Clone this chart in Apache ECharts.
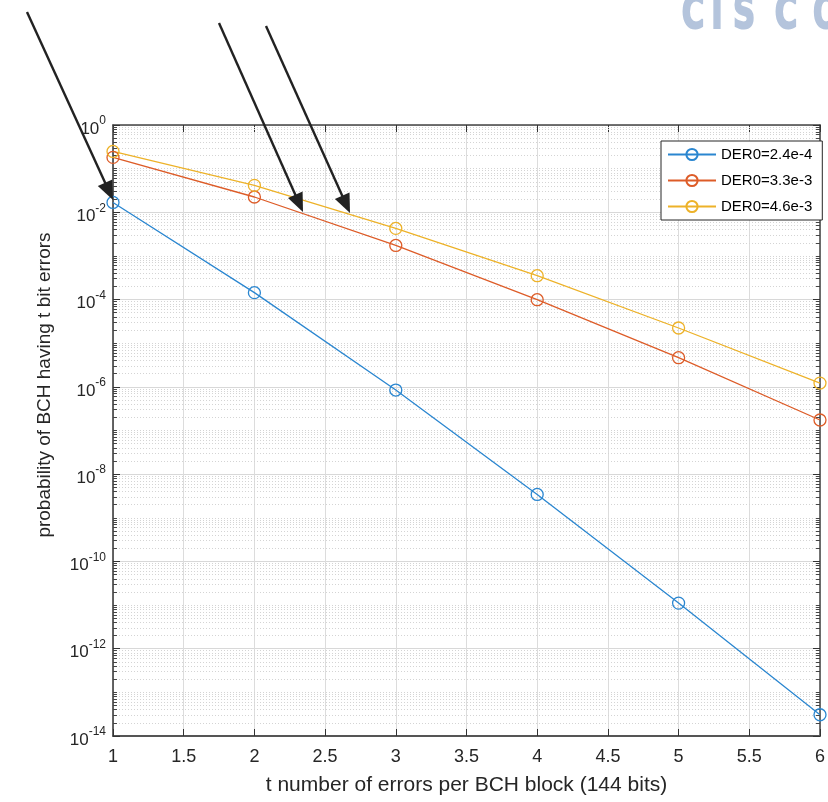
<!DOCTYPE html>
<html>
<head>
<meta charset="utf-8">
<script src="https://cdn.jsdelivr.net/npm/echarts@6/dist/echarts.min.js"></script>
<style>
  html, body { margin: 0; padding: 0; background: #fff; }
  #chart { width: 828px; height: 802px; }
</style>
</head>
<body>
<div id="chart"></div>
<script>
// t = number of bit errors in a BCH block
const tValues = [1, 2, 3, 4, 5, 6];
// probability of the BCH block having t bit errors
const der24 = [1.68e-2, 1.44e-4, 8.45e-7, 3.43e-9, 1.11e-11, 3.07e-14];
const der33 = [1.81e-1, 2.24e-2, 1.74e-3, 9.93e-5, 4.66e-6, 1.74e-7];
const der46 = [2.48e-1, 4.13e-2, 4.27e-3, 3.52e-4, 2.23e-5, 1.22e-6];
const seriesNames = ['DER0=2.4e-4', 'DER0=3.3e-3', 'DER0=4.6e-3'];
const colors = ['#2a86d0', '#dd5c28', '#edb229'];

const xMin = 1, xMax = 6;
const yMin = 1e-14, yMax = 1;
const font = "'Liberation Sans', Arial, sans-serif";

// minor grid of the log axis (odd decades and 2..9 x 10^n)
const minorValues = [];
for (let e = -14; e < 0; e++) {
  for (let k = 2; k <= 9; k++) minorValues.push(k * Math.pow(10, e));
  if (e % 2 !== 0) minorValues.push(Math.pow(10, e));
}
const tickLen = 0.028; // minor tick length in x units
const minorGrid = minorValues.map(v => ({ coords: [[xMin, v], [xMax, v]] }));
const minorTicks = [];
minorValues.forEach(v => {
  minorTicks.push({ coords: [[xMin, v], [xMin + tickLen, v]] });
  minorTicks.push({ coords: [[xMax - tickLen, v], [xMax, v]] });
});

// annotation arrows (pixel positions on the page)
const arrows = [[27, 12, 113, 200], [219, 23, 303, 212], [266, 26, 350, 213]];
function arrowShapes(a) {
  const [x1, y1, x2, y2] = a;
  const dx = x2 - x1, dy = y2 - y1, L = Math.hypot(dx, dy);
  const ux = dx / L, uy = dy / L;
  const hl = 19, hw = 8;
  const bx = x2 - ux * hl, by = y2 - uy * hl;
  return [
    { type: 'line', z: 100, shape: { x1: x1, y1: y1, x2: bx + ux * 2, y2: by + uy * 2 }, style: { stroke: '#222', lineWidth: 2.4 } },
    { type: 'polygon', z: 100, shape: { points: [[x2, y2], [bx - uy * hw, by + ux * hw], [bx + uy * hw, by - ux * hw]] }, style: { fill: '#222' } }
  ];
}

// watermark letters
const logoLetters = [['C', 693], ['I', 717], ['S', 744], ['C', 786], ['O', 826]];

const chart = echarts.init(document.getElementById('chart'), null, { renderer: 'canvas' });

const makeSeries = (name, vals, color) => ({
  name: name,
  type: 'line',
  data: tValues.map((t, i) => [t, vals[i]]),
  symbol: 'circle',
  symbolSize: 12,
  z: 5,
  lineStyle: { color: color, width: 1.3 },
  itemStyle: { color: 'rgba(255,255,255,0)', borderColor: color, borderWidth: 1.3 },
  emphasis: { disabled: true }
});

const graphics = [];
arrows.forEach(a => graphics.push(...arrowShapes(a)));
logoLetters.forEach(([ch, x]) => graphics.push({
  type: 'text', z: 50, x: x, y: 17, scaleX: 0.7,
  style: { text: ch, font: "bold 44px 'DejaVu Sans', 'Liberation Sans', sans-serif", fill: '#b4c4dc', stroke: '#b4c4dc', lineWidth: 2, align: 'center', verticalAlign: 'middle' }
}));
graphics.push({
  type: 'text', z: 50, x: 45, y: 385, rotation: Math.PI / 2,
  style: { text: 'probability of BCH having t bit errors', font: "19px 'Liberation Sans', Arial, sans-serif", fill: '#262626', align: 'center', verticalAlign: 'middle' }
});

const option = {
  animation: false,
  backgroundColor: '#fff',
  grid: { left: 113, right: 0, top: 125, bottom: 66, containLabel: false },
  legend: {
    orient: 'vertical',
    left: 661,
    top: 141,
    z: 20,
    data: seriesNames,
    itemWidth: 48,
    itemHeight: 14,
    itemGap: 11,
    padding: [6, 10, 6, 6],
    backgroundColor: '#fff',
    borderColor: '#262626',
    borderWidth: 1,
    borderRadius: 0,
    textStyle: { fontSize: 15, color: '#000', fontFamily: font }
  },
  xAxis: [
    {
      type: 'value', min: xMin, max: xMax, interval: 0.5,
      name: 't number of errors per BCH block (144 bits)',
      nameLocation: 'middle', nameGap: 39,
      nameTextStyle: { fontSize: 21, color: '#262626', fontFamily: font },
      axisLine: { show: true, lineStyle: { color: '#555', width: 2 } },
      axisTick: { show: true, inside: true, length: 7, lineStyle: { color: '#333' } },
      axisLabel: { fontSize: 18, color: '#262626', fontFamily: font, margin: 12 },
      splitLine: { show: true, lineStyle: { color: '#dcdcdc', width: 1 } }
    },
    {
      type: 'value', min: xMin, max: xMax, interval: 0.5, position: 'top',
      axisLine: { show: true, lineStyle: { color: '#444', width: 1.5 } },
      axisTick: { show: true, inside: true, length: 7, lineStyle: { color: '#333' } },
      axisLabel: { show: false },
      splitLine: { show: false }
    }
  ],
  yAxis: [
    {
      // base 100 gives one tick every two decades
      type: 'log', logBase: 100, min: yMin, max: yMax,
      axisLine: { show: true, lineStyle: { color: '#333', width: 1.5 } },
      axisTick: { show: true, inside: true, length: 7, lineStyle: { color: '#333' } },
      splitLine: { show: true, lineStyle: { color: '#d8d8d8', width: 1 } },
      axisLabel: {
        margin: 7,
        color: '#262626',
        fontFamily: font,
        formatter: function (v) {
          const e = Math.round(Math.log10(v));
          return '{b|10}{s|' + e + '}';
        },
        rich: {
          b: { fontSize: 17, fontFamily: font, color: '#262626', lineHeight: 20, padding: [8, 0, 0, 0] },
          s: { fontSize: 12, fontFamily: font, color: '#262626', verticalAlign: 'top', lineHeight: 12 }
        }
      }
    },
    {
      type: 'log', logBase: 100, min: yMin, max: yMax, position: 'right',
      axisLine: { show: true, lineStyle: { color: '#444', width: 1.5 } },
      axisTick: { show: true, inside: true, length: 7, lineStyle: { color: '#333' } },
      axisLabel: { show: false },
      splitLine: { show: false }
    }
  ],
  graphic: graphics,
  series: [
    {
      name: 'minorGrid',
      type: 'lines',
      coordinateSystem: 'cartesian2d',
      z: 1,
      silent: true,
      lineStyle: { color: '#d4d4d4', width: 1, type: [1, 2], opacity: 1 },
      data: minorGrid
    },
    {
      name: 'minorTicks',
      type: 'lines',
      coordinateSystem: 'cartesian2d',
      z: 3,
      silent: true,
      lineStyle: { color: '#444', width: 1, opacity: 1 },
      data: minorTicks
    },
    makeSeries(seriesNames[0], der24, colors[0]),
    makeSeries(seriesNames[1], der33, colors[1]),
    makeSeries(seriesNames[2], der46, colors[2])
  ]
};

chart.setOption(option);
</script>
</body>
</html>
